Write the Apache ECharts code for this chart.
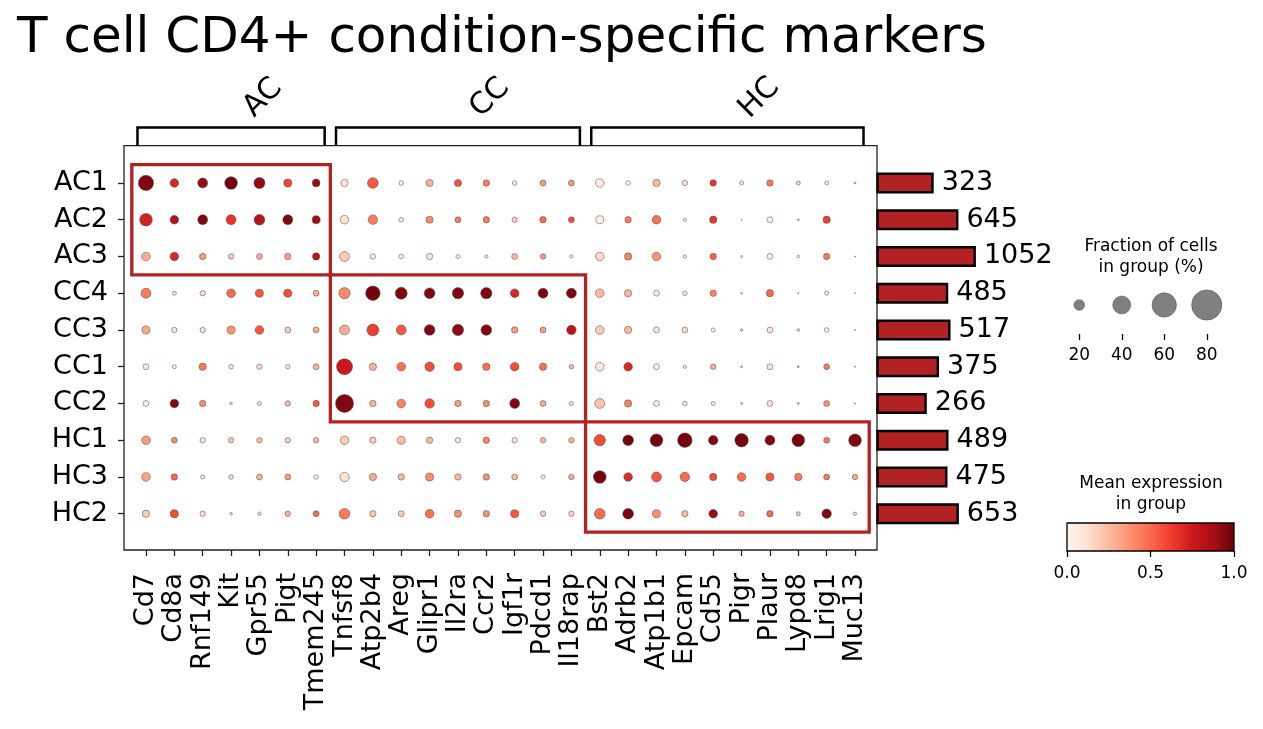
<!DOCTYPE html>
<html>
<head>
<meta charset="utf-8">
<script src="https://cdn.jsdelivr.net/npm/echarts@6/dist/echarts.min.js"></script>
<style>
  html, body { margin: 0; padding: 0; background: #fff; }
  #main { width: 1263px; height: 729px; }
</style>
</head>
<body>
<div id="main"></div>
<script>
const FONT = 'DejaVu Sans'

const genes = ['Cd7', 'Cd8a', 'Rnf149', 'Kit', 'Gpr55', 'Pigt', 'Tmem245',
  'Tnfsf8', 'Atp2b4', 'Areg', 'Glipr1', 'Il2ra', 'Ccr2', 'Igf1r', 'Pdcd1', 'Il18rap',
  'Bst2', 'Adrb2', 'Atp1b1', 'Epcam', 'Cd55', 'Pigr', 'Plaur', 'Lypd8', 'Lrig1', 'Muc13']
const clusters = ['AC1', 'AC2', 'AC3', 'CC4', 'CC3', 'CC1', 'CC2', 'HC1', 'HC3', 'HC2']
const cellCounts = [323, 645, 1052, 485, 517, 375, 266, 489, 475, 653]

// groups of genes (column index range) and the clusters they belong to (row range)
const groupNames = ['AC', 'CC', 'HC']
const groupColStart = [0, 7, 16]
const groupColEnd = [6, 15, 25]
const groupRowStart = [0, 3, 7]
const groupRowEnd = [2, 6, 9]

// fraction of cells in group (%), one row per cluster
const fraction = [
  [32, 15, 18, 25, 21, 13.6, 13, 12, 20, 6.5, 11.8, 11.8, 10, 6.5, 9, 9, 15, 6.5, 12, 8, 10, 5.4, 10, 5.4, 5.4, 2],
  [25, 15, 18, 18, 20, 18, 13.6, 15, 17, 6.5, 11.8, 9, 10, 8, 10, 9, 13.6, 10, 15, 4.2, 12, 1, 9, 2, 12, 0],
  [15, 15, 10, 8, 9, 10, 12, 18, 8, 6.5, 10, 5.4, 4.2, 9, 8, 4.2, 15, 12, 15, 4.2, 10, 2, 9, 3, 10, 1],
  [18, 5.4, 8, 15, 13.6, 13.6, 9, 21.5, 30, 23, 20, 21.5, 21.5, 15, 18, 18, 15, 12, 9, 6.5, 10, 2, 12, 1, 5.4, 1],
  [13.6, 8, 8, 13.6, 15, 9, 9, 18, 23, 18, 20, 21.5, 20, 10, 9, 17, 15, 12, 9, 9, 5.4, 3, 9, 3, 6.5, 1],
  [9, 5.4, 12, 6.5, 8, 6.5, 9, 34, 12, 15, 17, 13.6, 12, 15, 12, 6.5, 15, 15, 9, 4.2, 8, 2, 9, 2, 9, 1],
  [9, 15, 10, 3, 5.4, 8, 10, 40, 10, 15, 17, 10, 10, 18, 9, 5.4, 18, 12, 9, 6.5, 5.4, 2, 9, 2, 9, 1],
  [15, 9, 8, 8, 8, 8, 8, 15, 10, 13.6, 10, 8, 10, 8, 8, 8, 21.5, 20, 25, 30, 17, 27, 18, 25, 9, 25],
  [15, 10, 5.4, 6.5, 9, 9, 6.5, 17, 12, 10, 13.6, 10, 10, 9, 5.4, 8, 25, 15, 18, 17, 12, 15, 13.6, 12, 9, 8],
  [12, 13.6, 8, 3, 4.2, 8, 9, 20, 10, 9, 15, 12, 10, 13.6, 8, 8, 20, 20, 13.6, 10, 15, 8, 10, 5.4, 17, 4.2]
]

// mean expression in group (0..1), one row per cluster
const meanExpr = [
  [0.95, 0.7, 0.9, 0.98, 0.92, 0.6, 0.9, 0.1, 0.55, 0.05, 0.28, 0.55, 0.45, 0.08, 0.35, 0.35, 0.06, 0.05, 0.25, 0.12, 0.65, 0.1, 0.45, 0.15, 0.05, 0.1],
  [0.72, 0.82, 0.95, 0.65, 0.82, 0.95, 0.88, 0.12, 0.45, 0.08, 0.4, 0.45, 0.45, 0.2, 0.5, 0.58, 0.05, 0.45, 0.48, 0.05, 0.65, 0.2, 0.05, 0.1, 0.62, 0.1],
  [0.3, 0.7, 0.35, 0.2, 0.3, 0.33, 0.8, 0.2, 0.05, 0.05, 0.1, 0.05, 0.05, 0.25, 0.35, 0.08, 0.15, 0.42, 0.38, 0.05, 0.52, 0.1, 0.05, 0.05, 0.45, 0.1],
  [0.45, 0.1, 0.15, 0.5, 0.55, 0.58, 0.3, 0.4, 0.97, 0.95, 0.95, 0.95, 0.95, 0.7, 0.95, 0.95, 0.25, 0.25, 0.08, 0.1, 0.42, 0.1, 0.5, 0.1, 0.05, 0.1],
  [0.3, 0.1, 0.12, 0.38, 0.55, 0.2, 0.3, 0.3, 0.62, 0.55, 0.95, 0.92, 0.95, 0.35, 0.35, 0.8, 0.2, 0.25, 0.08, 0.15, 0.05, 0.1, 0.1, 0.1, 0.05, 0.1],
  [0.08, 0.08, 0.45, 0.1, 0.15, 0.08, 0.28, 0.75, 0.28, 0.48, 0.58, 0.58, 0.48, 0.58, 0.48, 0.25, 0.08, 0.7, 0.05, 0.05, 0.28, 0.2, 0.1, 0.2, 0.45, 0.2],
  [0.05, 0.95, 0.4, 0.1, 0.12, 0.25, 0.55, 0.95, 0.28, 0.42, 0.58, 0.35, 0.4, 0.95, 0.3, 0.1, 0.22, 0.42, 0.05, 0.08, 0.05, 0.2, 0.12, 0.2, 0.38, 0.2],
  [0.35, 0.4, 0.12, 0.2, 0.25, 0.18, 0.25, 0.2, 0.2, 0.25, 0.25, 0.1, 0.42, 0.12, 0.25, 0.28, 0.58, 0.97, 0.97, 0.97, 0.95, 0.97, 0.95, 0.97, 0.45, 0.95],
  [0.32, 0.5, 0.05, 0.15, 0.28, 0.35, 0.05, 0.12, 0.3, 0.25, 0.4, 0.25, 0.38, 0.25, 0.05, 0.3, 0.97, 0.68, 0.55, 0.5, 0.58, 0.5, 0.55, 0.45, 0.45, 0.3],
  [0.2, 0.58, 0.15, 0.12, 0.08, 0.28, 0.5, 0.45, 0.22, 0.2, 0.48, 0.38, 0.38, 0.55, 0.2, 0.18, 0.5, 0.97, 0.38, 0.25, 0.9, 0.3, 0.5, 0.2, 0.95, 0.15]
]

const sizeLegendTicks = [20, 40, 60, 80]

const reds = ['#fff5f0', '#fee0d2', '#fcbba1', '#fc9272', '#fb6a4a', '#ef3b2c', '#cb181d', '#a50f15', '#67000d']

// dot diameter grows with fraction^0.75 (area ~ fraction^1.5)
const dotSize = f => (f > 0 ? 1.13 * Math.pow(f, 0.75) : 0)

const dots = []
clusters.forEach((cl, r) => {
  genes.forEach((g, c) => {
    dots.push([c, r, fraction[r][c], meanExpr[r][c]])
  })
})

const chart = echarts.init(document.getElementById('main'))

const option = {
  backgroundColor: '#fff',
  animation: false,
  title: {
    text: 'T cell CD4+ condition-specific markers',
    left: 12,
    top: 9,
    textStyle: { fontFamily: FONT, fontSize: 50, fontWeight: 'normal', color: '#000' }
  },
  grid: [
    { left: 131.8, top: 164.6, width: 737.4, height: 367.5 },
    { left: 877.5, top: 164.6, width: 100, height: 367.5 },
    { left: 1058, top: 276, width: 170, height: 58 },
    {
      left: 1067, top: 523, width: 167, height: 28, show: true,
      borderColor: '#000', borderWidth: 1.3,
      backgroundColor: {
        type: 'linear', x: 0, y: 0, x2: 1, y2: 0,
        colorStops: reds.map((c, i) => ({ offset: i / (reds.length - 1), color: c }))
      }
    }
  ],
  xAxis: [
    {
      type: 'category', gridIndex: 0, data: genes, position: 'bottom', offset: 17.9,
      axisLine: { show: false },
      axisTick: { show: true, alignWithLabel: true, length: 6, lineStyle: { color: '#222', width: 1.3 } },
      axisLabel: { rotate: 90, fontSize: 27, fontFamily: FONT, color: '#000', margin: 23, interval: 0 },
      splitLine: { show: false }
    },
    { type: 'log', gridIndex: 1, min: 67, max: 1100, show: false },
    {
      type: 'category', gridIndex: 2, data: sizeLegendTicks.map(String),
      axisLine: { show: false },
      axisTick: { show: true, alignWithLabel: true, length: 6, lineStyle: { color: '#000', width: 1.3 } },
      axisLabel: { fontSize: 17, fontFamily: FONT, color: '#000', margin: 13 }
    },
    {
      type: 'value', gridIndex: 3, min: 0, max: 1, interval: 0.5,
      axisLine: { show: false },
      axisTick: { show: true, length: 6, lineStyle: { color: '#000', width: 1.3 } },
      axisLabel: {
        fontSize: 17, fontFamily: FONT, color: '#000', margin: 14,
        showMinLabel: true, showMaxLabel: true, formatter: v => v.toFixed(1)
      },
      splitLine: { show: false }
    }
  ],
  yAxis: [
    {
      type: 'category', gridIndex: 0, data: clusters, inverse: true, offset: 7.8,
      axisLine: { show: false },
      axisTick: { show: true, alignWithLabel: true, length: 6, lineStyle: { color: '#222', width: 1.3 } },
      axisLabel: { fontSize: 27, fontFamily: FONT, color: '#000', margin: 16 },
      splitLine: { show: false }
    },
    { type: 'category', gridIndex: 1, data: clusters, inverse: true, show: false },
    { type: 'value', gridIndex: 2, min: 0, max: 1, show: false },
    { type: 'value', gridIndex: 3, min: 0, max: 1, show: false }
  ],
  visualMap: {
    type: 'continuous', show: false, seriesIndex: 0, dimension: 3,
    min: 0, max: 1, inRange: { color: reds }
  },
  graphic: [
    {
      type: 'rect', z: 1,
      shape: { x: 124, y: 145.7, width: 753, height: 404.3 },
      style: { fill: 'none', stroke: '#222', lineWidth: 1.3 }
    },
    {
      type: 'text', x: 1151, y: 257,
      style: {
        text: 'Fraction of cells\nin group (%)', align: 'center', verticalAlign: 'middle',
        font: '17px "DejaVu Sans"', lineHeight: 21, fill: '#000'
      }
    },
    {
      type: 'text', x: 1151, y: 494.5,
      style: {
        text: 'Mean expression\nin group', align: 'center', verticalAlign: 'middle',
        font: '17px "DejaVu Sans"', lineHeight: 21, fill: '#000'
      }
    }
  ],
  series: [
    {
      type: 'scatter', xAxisIndex: 0, yAxisIndex: 0, z: 3,
      data: dots,
      symbolSize: v => dotSize(v[2]),
      itemStyle: { borderColor: '#444', borderWidth: 0.5, opacity: 1 }
    },
    {
      type: 'custom', xAxisIndex: 0, yAxisIndex: 0, z: 4,
      data: groupNames.map((g, i) => [groupColStart[i], groupRowStart[i]]),
      renderItem: (params, api) => {
        const i = params.dataIndex
        const p0 = api.coord([groupColStart[i], groupRowStart[i]])
        const p1 = api.coord([groupColEnd[i], groupRowEnd[i]])
        const cell = api.size([1, 1])
        const x0 = p0[0] - cell[0] / 2
        const x1 = p1[0] + cell[0] / 2
        const y0 = p0[1] - cell[1] / 2
        const y1 = p1[1] + cell[1] / 2
        const bx0 = p0[0] - cell[0] * 0.3
        const bx1 = p1[0] + cell[0] * 0.3
        return {
          type: 'group',
          children: [
            {
              type: 'rect',
              shape: { x: x0, y: y0, width: x1 - x0, height: y1 - y0 },
              style: { fill: 'none', stroke: '#b22222', lineWidth: 3.3 }
            },
            {
              type: 'polyline',
              shape: { points: [[bx0, 146], [bx0, 127.5], [bx1, 127.5], [bx1, 146]] },
              style: { fill: 'none', stroke: '#000', lineWidth: 2.5 }
            },
            {
              type: 'text', x: (bx0 + bx1) / 2 + 32, y: 98, rotation: Math.PI / 4,
              style: {
                text: groupNames[i], align: 'center', verticalAlign: 'middle',
                font: '30px "DejaVu Sans"', fill: '#000'
              }
            }
          ]
        }
      }
    },
    {
      type: 'bar', xAxisIndex: 1, yAxisIndex: 1,
      data: cellCounts, barWidth: 21,
      itemStyle: { color: '#b22222', borderColor: '#000', borderWidth: 2.4 },
      label: {
        show: true, position: 'right', distance: 8,
        fontSize: 27, fontFamily: FONT, color: '#000'
      }
    },
    {
      type: 'scatter', xAxisIndex: 2, yAxisIndex: 2,
      data: sizeLegendTicks.map((s, i) => [i, 0.5, s]),
      symbolSize: v => dotSize(v[2]),
      itemStyle: { color: '#808080', borderColor: '#444', borderWidth: 0.5, opacity: 1 }
    }
  ]
}

option && chart.setOption(option)
</script>
</body>
</html>
